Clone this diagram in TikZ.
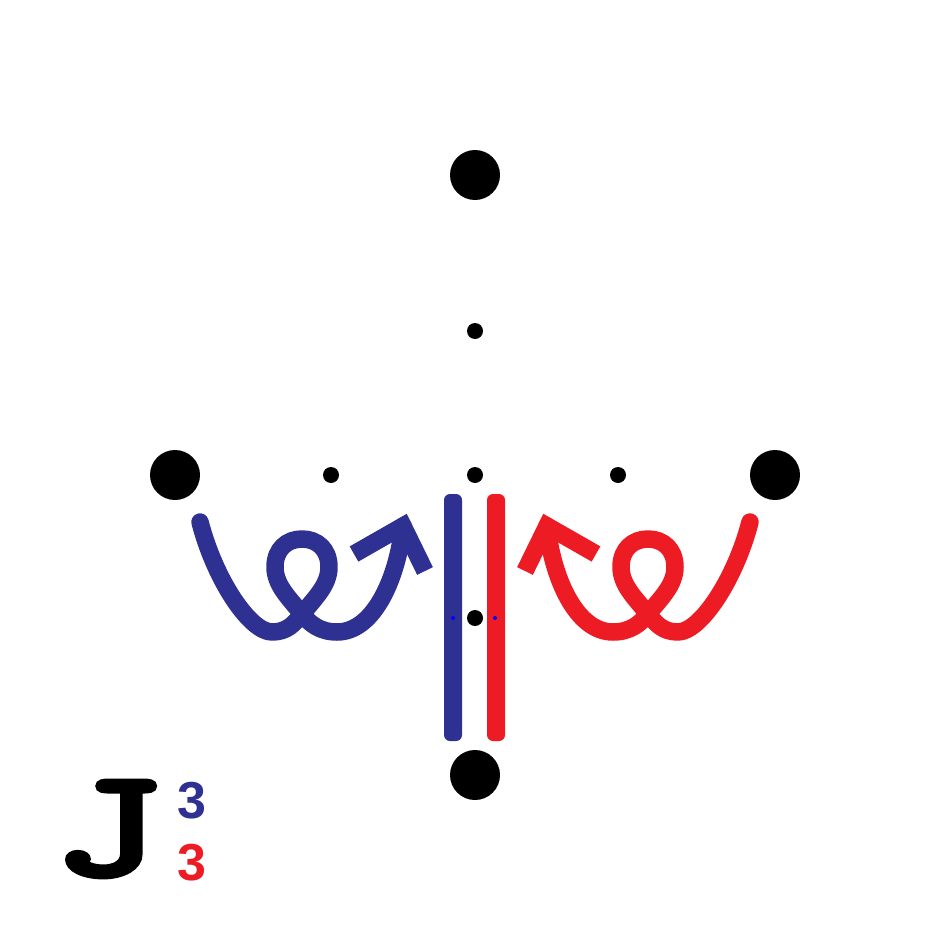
\documentclass[tikz,border=0pt]{standalone}
\usepackage{fontspec}
\newfontfamily\jfont[FakeBold=4]{Latin Modern Mono}
\newfontfamily\digfnt{Liberation Sans}
\definecolor{cblue}{HTML}{2E3192}
\definecolor{cred}{HTML}{ED1C24}
\tikzset{
  bigdot/.style={circle,fill=black,inner sep=0pt,minimum size=50pt},
  smalldot/.style={circle,fill=black,inner sep=0pt,minimum size=16pt},
  tinydot/.style={circle,fill=blue,inner sep=0pt,minimum size=4pt},
  curl/.style={line width=17.5pt,line cap=round,line join=round},
  barb/.style={line width=17.5pt,line cap=butt,line join=miter,miter limit=10},
  digit/.style={inner sep=0pt,font=\digfnt\bfseries\fontsize{52}{52}\selectfont},
}
\begin{document}
\begin{tikzpicture}[x=1pt,y=-1pt]
\useasboundingbox (0,0) rectangle (950,950);
% dots
\node[bigdot] (top) at (475,175) {};
\node[bigdot] (left) at (175,475) {};
\node[bigdot] (right) at (775,475) {};
\node[bigdot] (bottom) at (475,775) {};
\node[smalldot] (s1) at (475,331) {};
\node[smalldot] (s2) at (331,475) {};
\node[smalldot] (s3) at (475,475) {};
\node[smalldot] (s4) at (618,475) {};
% bars
\fill[cblue,rounded corners=6pt] (444,494) rectangle (462,741);
\fill[cred,rounded corners=6pt] (487,494) rectangle (505,741);
\node[smalldot] (s5) at (475,618) {};
\node[tinydot] (t1) at (453,618) {};
\node[tinydot] (t2) at (495,618) {};
% blue curl
\coordinate (bs) at (200,522);
\coordinate (bt) at (403,526);
\coordinate (bl) at (354,554);
\coordinate (br) at (425,571);
\draw[curl,cblue] (bs) .. controls (215,580) and (250,632) .. (272,632)
  .. controls (287,632) and (294,624) .. (302,614)
  .. controls (315,598) and (329,585) .. (329,567)
  .. controls (329,549) and (317,539) .. (302,539)
  .. controls (287,539) and (275,549) .. (275,567)
  .. controls (275,585) and (289,598) .. (302,614)
  .. controls (310,624) and (320,632) .. (337,632)
  .. controls (375,632) and (398,575) .. (bt);
\draw[barb,cblue] (bl) -- (bt) -- (br);
% red curl (mirror)
\begin{scope}[xshift=950pt,x=-1pt]
\coordinate (rs) at (200,522);
\coordinate (rt) at (403,526);
\coordinate (rl) at (354,554);
\coordinate (rr) at (425,571);
\draw[curl,cred] (rs) .. controls (215,580) and (250,632) .. (272,632)
  .. controls (287,632) and (294,624) .. (302,614)
  .. controls (315,598) and (329,585) .. (329,567)
  .. controls (329,549) and (317,539) .. (302,539)
  .. controls (287,539) and (275,549) .. (275,567)
  .. controls (275,585) and (289,598) .. (302,614)
  .. controls (310,624) and (320,632) .. (337,632)
  .. controls (375,632) and (398,575) .. (rt);
\draw[barb,cred] (rl) -- (rt) -- (rr);
\end{scope}
% label
\node[inner sep=0pt,font=\jfont\fontsize{152}{152}\selectfont] (J) at (108,829) {\scalebox{1.4}[1]{J}};
\node[digit,text=cblue] (sup) at (192,801) {3};
\node[digit,text=cred] (sub) at (192,863) {3};
\end{tikzpicture}
\end{document}
